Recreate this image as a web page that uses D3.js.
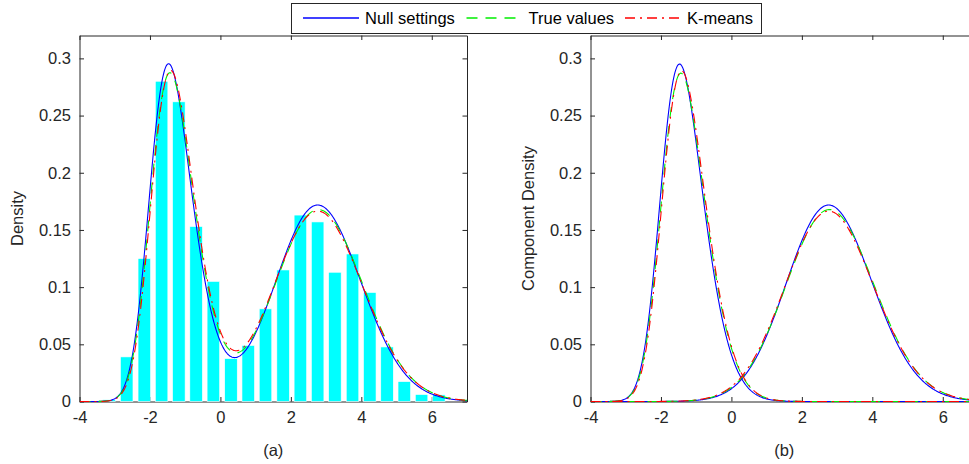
<!DOCTYPE html>
<html>
<head>
<meta charset="utf-8">
<script src="https://cdn.jsdelivr.net/npm/d3@7"></script>
<style>
  html, body { margin: 0; padding: 0; background: #fff; }
  svg { display: block; }
  text { font-family: "Liberation Sans", Arial, Helvetica, sans-serif; fill: #262626; }
</style>
</head>
<body>
<svg id="chart" width="969" height="464"></svg>
<script>
// ---------------- data ----------------
const xTicks = [-4, -2, 0, 2, 4, 6];
const yTicks = [0, 0.05, 0.1, 0.15, 0.2, 0.25, 0.3];

// histogram (bin centres and density heights)
const binCenters = [-3.16, -2.66, -2.16, -1.67, -1.18, -0.69, -0.20, 0.30, 0.79, 1.28,
                    1.78, 2.27, 2.76, 3.25, 3.75, 4.24, 4.73, 5.22, 5.71, 6.20];
const binDensity = [0.0015, 0.039, 0.125, 0.280, 0.262, 0.153, 0.105, 0.0375, 0.049, 0.081,
                    0.115, 0.163, 0.157, 0.113, 0.129, 0.0953, 0.0477, 0.0174, 0.0061, 0.0058];

// fitted two-component (skew-normal) mixtures, one entry per method
const methods   = ["Null settings", "True values", "K-means"];
const weight1   = [0.4577, 0.4550, 0.4557];
const location1 = [-1.960, -1.9325, -1.910];
const scale1    = [0.920, 0.940, 0.935];
const shape1    = [2.0, 2.0, 2.0];
const weight2   = [0.5244, 0.5267, 0.5262];
const location2 = [2.110, 2.1125, 2.088];
const scale2    = [1.41, 1.45, 1.46];
const shape2    = [0.8, 0.8, 0.8];

const panelLabels = ["(a)", "(b)"];
const yLabels = ["Density", "Component Density"];

// ---------------- styles ----------------
const lineColors = ["#0000ff", "#00ee00", "#ff0000"];
const lineDash = [null, "11,8", "10,5,2,5"];
const axisColor = "#262626";
const barColor = "#00ffff";
const FONT = 16.5;

// ---------------- helpers ----------------
function erf(x) {
  const s = x < 0 ? -1 : 1; x = Math.abs(x);
  const t = 1 / (1 + 0.3275911 * x);
  const y = 1 - (((((1.061405429 * t - 1.453152027) * t) + 1.421413741) * t - 0.284496736) * t + 0.254829592) * t * Math.exp(-x * x);
  return s * y;
}
const phi = z => Math.exp(-z * z / 2) / Math.sqrt(2 * Math.PI);
const Phi = z => 0.5 * (1 + erf(z / Math.SQRT2));
function snPdf(x, w, xi, om, al) {
  const z = (x - xi) / om;
  return w * 2 / om * phi(z) * Phi(al * z);
}
const grid = d3.range(-4, 7.0001, 0.02);

// ---------------- layout ----------------
const svg = d3.select("#chart");
const panels = [
  { x0: 79.5, x1: 467, y0: 35.5, y1: 401.5 },
  { x0: 590.5, x1: 978, y0: 35.5, y1: 401.5 }
];

const fmtY = d => d === 0 ? "0" : String(+d.toFixed(2));
const fmtX = d => String(d); // hyphen-minus like the original

panels.forEach((p, pi) => {
  const x = d3.scaleLinear().domain([-4, 7]).range([p.x0, p.x1]);
  const y = d3.scaleLinear().domain([0, 0.32]).range([p.y1, p.y0]);
  const g = svg.append("g");

  // axes (drawn below data, like MATLAB's default layer)
  const axB = g.append("g").attr("transform", `translate(0,${p.y1})`)
    .call(d3.axisBottom(x).tickValues(xTicks).tickFormat(fmtX).tickSizeInner(-4.5).tickSizeOuter(0).tickPadding(10));
  const axT = g.append("g").attr("transform", `translate(0,${p.y0})`)
    .call(d3.axisTop(x).tickValues(xTicks).tickFormat("").tickSizeInner(-4.5).tickSizeOuter(0));
  const axL = g.append("g").attr("transform", `translate(${p.x0},0)`)
    .call(d3.axisLeft(y).tickValues(yTicks).tickFormat(fmtY).tickSizeInner(-4.5).tickSizeOuter(0).tickPadding(8.5));
  const axR = g.append("g").attr("transform", `translate(${p.x1},0)`)
    .call(d3.axisRight(y).tickValues(yTicks).tickFormat("").tickSizeInner(-4.5).tickSizeOuter(0));
  [axB, axT, axL, axR].forEach(a => {
    a.select(".domain").attr("stroke", axisColor);
    a.selectAll(".tick line").attr("stroke", axisColor);
    a.selectAll("text").attr("font-size", FONT).attr("font-family", null).style("fill", axisColor);
  });
  axB.selectAll("text").attr("dy", "0.72em");

  const clipId = "clip" + pi;
  svg.append("clipPath").attr("id", clipId).append("rect")
    .attr("x", p.x0).attr("y", p.y0 - 2).attr("width", p.x1 - p.x0).attr("height", p.y1 - p.y0 + 3);
  const data = g.append("g").attr("clip-path", `url(#${clipId})`);

  if (pi === 0) {
    // histogram bars
    const half = 0.178;
    data.selectAll("rect.bar").data(binCenters).join("rect")
      .attr("class", "bar")
      .attr("x", d => x(d - half))
      .attr("width", d => x(d + half) - x(d - half))
      .attr("y", (d, i) => y(binDensity[i]))
      .attr("height", (d, i) => y(0) - y(binDensity[i]))
      .attr("fill", barColor)
      .attr("stroke", "#ffffff").attr("stroke-width", 0.6);

    methods.forEach((m, k) => {
      const line = d3.line()
        .x(d => x(d))
        .y(d => y(snPdf(d, weight1[k], location1[k], scale1[k], shape1[k]) +
                   snPdf(d, weight2[k], location2[k], scale2[k], shape2[k])));
      data.append("path").datum(grid).attr("d", line)
        .attr("fill", "none").attr("stroke", lineColors[k]).attr("stroke-width", 1.1)
        .attr("stroke-dasharray", lineDash[k]);
    });
  } else {
    methods.forEach((m, k) => {
      const comps = [
        [weight1[k], location1[k], scale1[k], shape1[k]],
        [weight2[k], location2[k], scale2[k], shape2[k]]
      ];
      comps.forEach(c => {
        const line = d3.line().x(d => x(d)).y(d => y(snPdf(d, c[0], c[1], c[2], c[3])));
        data.append("path").datum(grid).attr("d", line)
          .attr("fill", "none").attr("stroke", lineColors[k]).attr("stroke-width", 1.1)
          .attr("stroke-dasharray", lineDash[k]);
      });
    });
  }

  // panel label and y label
  g.append("text").attr("x", (p.x0 + p.x1) / 2).attr("y", 456)
    .attr("text-anchor", "middle").attr("font-size", FONT).text(panelLabels[pi]);
  const ylx = pi === 0 ? 23 : 534;
  g.append("text").attr("transform", `translate(${ylx},${(p.y0 + p.y1) / 2}) rotate(-90)`)
    .attr("text-anchor", "middle").attr("font-size", FONT).text(yLabels[pi]);
});

// ---------------- legend ----------------
const leg = svg.append("g");
leg.append("rect").attr("x", 291.5).attr("y", 3.5).attr("width", 470).attr("height", 30)
  .attr("fill", "#ffffff").attr("stroke", axisColor).attr("stroke-width", 1);
const legLineX = [303, 466.5, 625];
methods.forEach((m, k) => {
  leg.append("path")
    .attr("d", `M${legLineX[k]},18 L${legLineX[k] + 56},18`)
    .attr("fill", "none")
    .style("stroke", lineColors[k]).style("stroke-width", 1.3)
    .attr("stroke-dasharray", lineDash[k]);
  leg.append("text").attr("x", legLineX[k] + 62).attr("y", 24)
    .attr("font-size", FONT).style("fill", "#000").text(m);
});
</script>
</body>
</html>
